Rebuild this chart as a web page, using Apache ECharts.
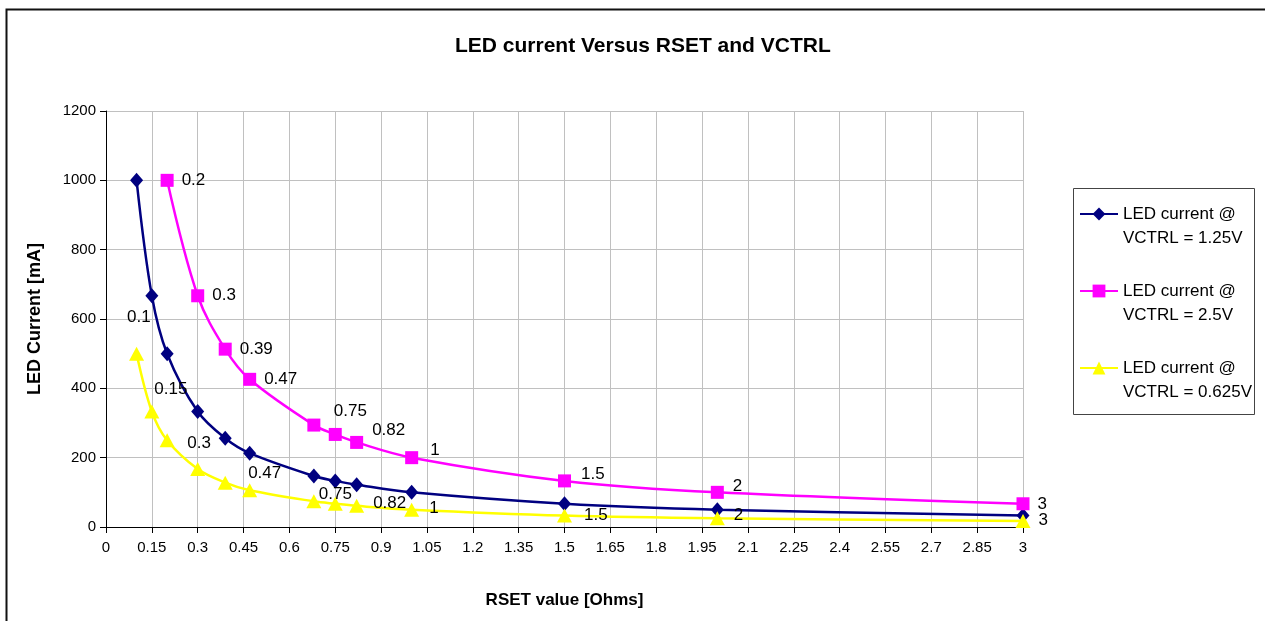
<!DOCTYPE html>
<html><head><meta charset="utf-8">
<script src="https://cdn.jsdelivr.net/npm/echarts@6/dist/echarts.min.js"></script>
<style>html,body{margin:0;padding:0;background:#fff}#c{width:1265px;height:621px}</style>
</head><body><div id="c"></div>
<script>
// ---- data ----
const rsetA = [0.1, 0.15, 0.2, 0.3, 0.39, 0.47, 0.68, 0.75, 0.82, 1, 1.5, 2, 3];
const rsetB = [0.2, 0.3, 0.39, 0.47, 0.68, 0.75, 0.82, 1, 1.5, 2, 3];
const currentVctrl125 = [1000, 667, 500, 333, 256, 213, 147, 133, 122, 100, 67, 50, 33];
const currentVctrl25 = [1000, 667, 513, 426, 294, 267, 244, 200, 133, 100, 67];
const currentVctrl0625 = [500, 333, 250, 167, 128, 106, 74, 67, 61, 50, 33, 25, 17];
const labelsVctrl25 = ['0.2', '0.3', '0.39', '0.47', '', '0.75', '0.82', '1', '1.5', '2', '3'];
const labelsVctrl0625 = ['0.1', '0.15', '', '0.3', '', '0.47', '', '0.75', '0.82', '1', '1.5', '2', '3'];
const seriesNames = ['LED current @\nVCTRL = 1.25V', 'LED current @\nVCTRL = 2.5V', 'LED current @\nVCTRL = 0.625V'];
const chartTitle = 'LED current Versus RSET and VCTRL';
const xAxisTitle = 'RSET value [Ohms]';
const yAxisTitle = 'LED Current [mA]';

// ---- layout (label nudges, pixels) ----
const nudgeB = [[0,0],[0,0],[0,0],[0,0],null,[-16,-23],[1,-12],[4,-7],[2,-7],[1,-6],[0,1]];
const nudgeC = [[-22,-36],[-10,-22],null,[-23,-26],null,[-14,-17],null,[-29,-9],[4,-3],[5,-1],[7,0],[4,-3],[3,-1]];

const FF = "'Liberation Sans',Arial,sans-serif";

function build(xs, ys, labels, nudges) {
  return xs.map((x, i) => {
    const d = { value: [x, ys[i]] };
    if (labels && labels[i]) {
      d.label = { show: true, formatter: labels[i], offset: nudges[i] || [0, 0] };
    }
    return d;
  });
}

const chart = echarts.init(document.getElementById('c'), null, { renderer: 'canvas' });
const labelBase = { show: false, position: 'right', distance: 5, color: '#000', fontSize: 17, fontFamily: FF };

chart.setOption({
  animation: false,
  backgroundColor: '#fff',
  title: {
    text: chartTitle, left: 450, top: 31,
    textStyle: { fontFamily: FF, fontWeight: 'bold', fontSize: 21, color: '#000' }
  },
  grid: { left: 106, right: 242, top: 111, bottom: 94, containLabel: false },
  legend: {
    orient: 'vertical', left: 1079, top: 178, padding: 0, itemGap: 5,
    itemWidth: 38, itemHeight: 16, selectedMode: false,
    formatter: n => '\n' + n,
    textStyle: { fontFamily: FF, fontSize: 17, lineHeight: 24, color: '#000' }
  },
  xAxis: {
    type: 'value', min: 0, max: 3, interval: 0.15,
    name: xAxisTitle, nameLocation: 'middle', nameGap: 65,
    nameTextStyle: { fontFamily: FF, fontWeight: 'bold', fontSize: 17, color: '#000' },
    axisLine: { show: true, lineStyle: { color: '#000', width: 1 } },
    axisTick: { show: true, length: 6, lineStyle: { color: '#000' } },
    axisLabel: { margin: 13, fontFamily: FF, fontSize: 15, color: '#000', formatter: v => String(+v.toFixed(2)) },
    splitLine: { show: true, lineStyle: { color: '#c0c0c0', width: 1 } }
  },
  yAxis: {
    type: 'value', min: 0, max: 1200, interval: 200,
    name: yAxisTitle, nameLocation: 'middle', nameGap: 62, nameRotate: 90,
    nameTextStyle: { fontFamily: FF, fontWeight: 'bold', fontSize: 18, color: '#000' },
    axisLine: { show: true, lineStyle: { color: '#000', width: 1 } },
    axisTick: { show: true, length: 6, lineStyle: { color: '#000' } },
    axisLabel: { margin: 10, fontFamily: FF, fontSize: 15, color: '#000', formatter: v => String(v) },
    splitLine: { show: true, lineStyle: { color: '#c0c0c0', width: 1 } }
  },
  graphic: [
    { type: 'rect', left: 4, top: 7, z: -10, shape: { width: 1300, height: 700 },
      style: { fill: 'none', stroke: '#111', lineWidth: 2 } },
    { type: 'rect', left: 1071, top: 186, z: -10, shape: { width: 181, height: 226 },
      style: { fill: 'none', stroke: '#444', lineWidth: 1 } }
  ],
  series: [
    {
      name: seriesNames[0], type: 'line', smooth: 0.35,
      symbol: 'diamond', symbolSize: [13, 15],
      lineStyle: { color: '#000080', width: 2.5 }, itemStyle: { color: '#000080' },
      label: labelBase,
      data: build(rsetA, currentVctrl125, null, null)
    },
    {
      name: seriesNames[1], type: 'line', smooth: 0.35,
      symbol: 'rect', symbolSize: 13,
      lineStyle: { color: '#ff00ff', width: 2.5 }, itemStyle: { color: '#ff00ff' },
      label: Object.assign({}, labelBase, { distance: 8 }),
      data: build(rsetB, currentVctrl25, labelsVctrl25, nudgeB)
    },
    {
      name: seriesNames[2], type: 'line', smooth: 0.35,
      symbol: 'triangle', symbolSize: [15, 14],
      lineStyle: { color: '#ffff00', width: 2.5 }, itemStyle: { color: '#ffff00' },
      label: labelBase,
      data: build(rsetA, currentVctrl0625, labelsVctrl0625, nudgeC)
    }
  ]
});
</script>
</body></html>
